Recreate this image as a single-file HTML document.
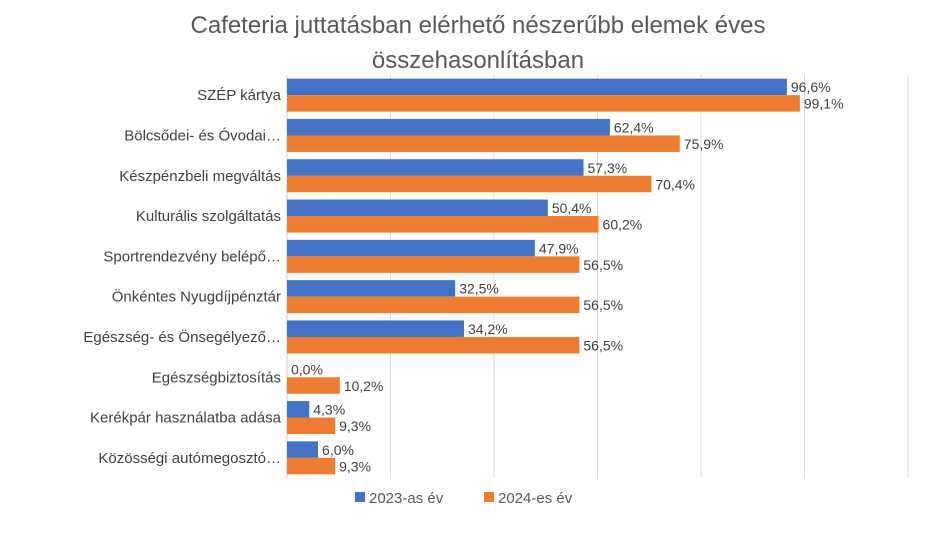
<!DOCTYPE html>
<html><head><meta charset="utf-8"><style>
body{margin:0;background:#fff;font-family:"Liberation Sans",sans-serif;}
svg text{font-family:"Liberation Sans",sans-serif;}
</style></head><body>
<svg width="946" height="528" id="c">
<text x="478" y="33" text-anchor="middle" font-size="24" fill="#595959">Cafeteria juttatásban elérhető nészerűbb elemek éves</text>
<text x="478" y="68" text-anchor="middle" font-size="24" fill="#595959">összehasonlításban</text>
<g id="grid"></g><g id="bars"></g>
<g>
<rect x="355" y="492" width="10" height="10" fill="#4472C4"/>
<text x="369" y="503" font-size="15" fill="#595959">2023-as év</text>
<rect x="484" y="492" width="10" height="10" fill="#ED7D31"/>
<text x="498" y="503" font-size="15" fill="#595959">2024-es év</text>
</g>
</svg>
<script>
const categories=["SZÉP kártya","Bölcsődei- és Óvodai…","Készpénzbeli megváltás","Kulturális szolgáltatás","Sportrendezvény belépő…","Önkéntes Nyugdíjpénztár","Egészség- és Önsegélyező…","Egészségbiztosítás","Kerékpár használatba adása","Közösségi autómegosztó…"];
const s2023=[96.6,62.4,57.3,50.4,47.9,32.5,34.2,0.0,4.3,6.0];
const s2024=[99.1,75.9,70.4,60.2,56.5,56.5,56.5,10.2,9.3,9.3];
const ticks=[0,20,40,60,80,100,120];
const NS="http://www.w3.org/2000/svg";
const x0=287,x1=908,xmax=120,yTop=75,yBot=478;
const xs=v=>x0+(x1-x0)*v/xmax;
const band=(yBot-yTop)/categories.length;
const fmt=v=>v.toFixed(1).replace('.',',')+'%';
function mk(t,a,p){const e=document.createElementNS(NS,t);for(const k in a)e.setAttribute(k,a[k]);p.appendChild(e);return e;}
const g=document.getElementById('grid'),b=document.getElementById('bars');
ticks.forEach(t=>{const l=mk('line',{x1:xs(t),x2:xs(t),y1:yTop,y2:yBot,stroke:t===0?'#d0d0d0':'#d9d9d9','stroke-width':1},g);

});
categories.forEach((c,i)=>{
 const y=yTop+i*band, bh=16.5, by=y+(band-2*bh)/2;
 const lab=mk('text',{x:281,y:y+band/2+5,'text-anchor':'end','font-size':15,fill:'#404040'},b);lab.textContent=c;
 
 
 [[s2023,'#4472C4',0],[s2024,'#ED7D31',1]].forEach(([s,col,k])=>{
  const yy=by+k*bh;
  const r=mk('rect',{x:x0,y:yy,width:Math.max(0,xs(s[i])-x0),height:bh,fill:col},b);
  
  
  const t=mk('text',{x:xs(s[i])+4,y:yy+bh-3,'font-size':14,fill:'#404040'},b);t.textContent=fmt(s[i]);
  
  
 });
});
</script>
</body></html>
